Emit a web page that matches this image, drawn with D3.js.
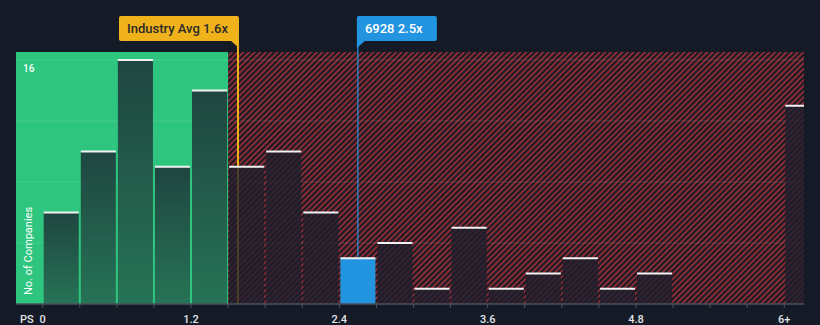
<!DOCTYPE html>
<html>
<head>
<meta charset="utf-8">
<script src="https://cdnjs.cloudflare.com/ajax/libs/d3/7.8.5/d3.min.js"></script>
<style>
  body { margin: 0; background: #151b26; }
  svg { display: block; font-family: Roboto, "Open Sans", sans-serif; }
</style>
</head>
<body>
<svg width="820" height="325"></svg>
<script>
// bins are 0.3 wide, starting at 0; last bar is the "6+" bucket
var binStarts = [0, 0.3, 0.6, 0.9, 1.2, 1.5, 1.8, 2.1, 2.4, 2.7, 3.0, 3.3, 3.6, 3.9, 4.2, 4.5, 4.8, 5.1, 5.4, 5.7, 6.0];
var counts    = [6, 10, 16, 9, 14, 9, 10, 6, 3, 4, 1, 5, 1, 2, 3, 1, 2, 0, 0, 0, 13];
var tickValues = [0, 1.2, 2.4, 3.6, 4.8, 6];
var tickLabels = ["0", "1.2", "2.4", "3.6", "4.8", "6+"];
var binWidth = 0.3;
var fairEdge = 1.5;       // end of the green zone
var industryAvg = 1.58;   // shown as 1.6x
var companyPS = 2.55;     // shown as 2.5x
var companyName = "6928";

(function () {
var svg = d3.select("svg"),
    pLeft = 16, pRight = 804, pTop = 52, pBottom = 304;

var x = d3.scaleLinear().domain([0, 6]).range([42.7, 784.3]);
var y = d3.scaleLinear().domain([0, 16]).range([pBottom, 60]);

var defs = svg.append("defs");

var hatch = defs.append("pattern")
    .attr("id", "hatch")
    .attr("patternUnits", "userSpaceOnUse")
    .attr("width", 4).attr("height", 4)
    .attr("patternTransform", "rotate(45)");
hatch.append("rect").attr("width", 4).attr("height", 4).attr("fill", "#181a25");
hatch.append("rect").attr("width", 2).attr("height", 4).attr("fill", "#8a2c34");

var grad = defs.append("linearGradient")
    .attr("id", "greenBar")
    .attr("x1", 0).attr("y1", 0).attr("x2", 0).attr("y2", 1);
grad.append("stop").attr("offset", "0%").attr("stop-color", "#1f4640");
grad.append("stop").attr("offset", "100%").attr("stop-color", "#267356");

defs.append("clipPath").attr("id", "plotClip")
  .append("rect")
    .attr("x", pLeft).attr("y", pTop)
    .attr("width", pRight - pLeft).attr("height", pBottom - pTop);

// background zones
svg.append("rect")
    .attr("x", x(fairEdge)).attr("y", pTop)
    .attr("width", pRight - x(fairEdge)).attr("height", pBottom - pTop)
    .attr("fill", "url(#hatch)");

svg.append("rect")
    .attr("x", pLeft).attr("y", pTop)
    .attr("width", x(fairEdge) - pLeft).attr("height", pBottom - pTop)
    .attr("fill", "#2ec67f");

// gridlines
svg.selectAll(".grid")
    .data([4, 8, 12, 16])
    .enter().append("line")
    .attr("x1", pLeft).attr("x2", pRight)
    .attr("y1", function (d) { return y(d); })
    .attr("y2", function (d) { return y(d); })
    .attr("stroke", "#ffffff")
    .attr("stroke-opacity", 0.12)
    .attr("stroke-width", 1);

// average line (drawn under bars so it dims inside them)
svg.append("line")
    .attr("x1", x(industryAvg)).attr("x2", x(industryAvg))
    .attr("y1", 41).attr("y2", pBottom)
    .attr("stroke", "#f0b21a")
    .attr("stroke-width", 2);

var bins = binStarts.map(function (s, i) { return { x0: s, x1: s + binWidth, count: counts[i] }; });

function isCompany(d) { return companyPS >= d.x0 && companyPS < d.x1; }

var g = svg.append("g").attr("clip-path", "url(#plotClip)");

var bars = g.selectAll(".bar")
    .data(bins.filter(function (d) { return d.count > 0; }))
    .enter().append("g");

bars.append("rect")
    .attr("x", function (d) { return x(d.x0) + 1; })
    .attr("y", function (d) { return y(d.count); })
    .attr("width", function (d) { return x(d.x1) - x(d.x0) - 2; })
    .attr("height", function (d) { return pBottom - y(d.count); })
    .attr("fill", function (d) {
        if (isCompany(d)) return "#2394e0";
        if (d.x1 <= fairEdge) return "url(#greenBar)";
        return "#1e1f2b";
    })
    .attr("fill-opacity", function (d) {
        return (isCompany(d) || d.x1 <= fairEdge) ? 1 : 0.78;
    });

bars.append("rect")
    .attr("x", function (d) { return x(d.x0) + 1; })
    .attr("y", function (d) { return y(d.count) - 1; })
    .attr("width", function (d) { return x(d.x1) - x(d.x0) - 2; })
    .attr("height", 2)
    .attr("fill", "#f2f2f2");

// company line
svg.append("line")
    .attr("x1", x(companyPS)).attr("x2", x(companyPS))
    .attr("y1", 41).attr("y2", y(counts[8]) - 1)
    .attr("stroke", "#2394e0")
    .attr("stroke-width", 1.2);

// x axis
svg.append("line")
    .attr("x1", pLeft).attr("x2", pRight)
    .attr("y1", pBottom).attr("y2", pBottom)
    .attr("stroke", "#4b515d").attr("stroke-width", 1.5);

svg.selectAll(".tick")
    .data(binStarts)
    .enter().append("line")
    .attr("x1", function (d) { return x(d); })
    .attr("x2", function (d) { return x(d); })
    .attr("y1", pBottom).attr("y2", pBottom + 4)
    .attr("stroke", "#4b515d");

svg.selectAll(".tlabel")
    .data(tickValues)
    .enter().append("text")
    .attr("x", function (d) { return x(d); })
    .attr("y", 323)
    .attr("text-anchor", "middle")
    .attr("font-size", 11)
    .attr("font-weight", 500)
    .attr("fill", "#e2e4e8")
    .text(function (d, i) { return tickLabels[i]; });

svg.append("text")
    .attr("x", 20).attr("y", 323)
    .attr("font-size", 11).attr("font-weight", 500)
    .attr("fill", "#e2e4e8")
    .text("PS");

svg.append("text")
    .attr("x", 23).attr("y", 72)
    .attr("font-size", 10).attr("font-weight", 500)
    .attr("fill", "#ffffff")
    .text("16");

svg.append("text")
    .attr("transform", "translate(32,295) rotate(-90)")
    .attr("font-size", 11)
    .attr("fill", "#ffffff")
    .text("No. of Companies");

// callouts
function callout(xLine, w, fill, textFill, label, anchorRight) {
    var bx = anchorRight ? xLine - w + 1 : xLine - 1;
    var c = svg.append("g");
    c.append("rect")
        .attr("x", bx).attr("y", 16)
        .attr("width", w).attr("height", 25)
        .attr("rx", 2)
        .attr("fill", fill);
    var tip = anchorRight
        ? [[xLine - 8, 40], [xLine + 1, 40], [xLine + 1, 48]]
        : [[xLine - 1, 40], [xLine + 8, 40], [xLine - 1, 48]];
    c.append("path")
        .attr("d", d3.line()(tip) + "Z")
        .attr("fill", fill);
    c.append("text")
        .attr("x", bx + 8).attr("y", 33)
        .attr("font-size", 13)
        .attr("font-weight", 500)
        .attr("fill", textFill)
        .text(label);
}

callout(x(industryAvg), 120, "#f0b21a", "#2a2a2a", "Industry Avg 1.6x", true);
callout(x(companyPS), 80, "#2394e0", "#ffffff", companyName + " 2.5x", false);
})();
</script>
</body>
</html>
